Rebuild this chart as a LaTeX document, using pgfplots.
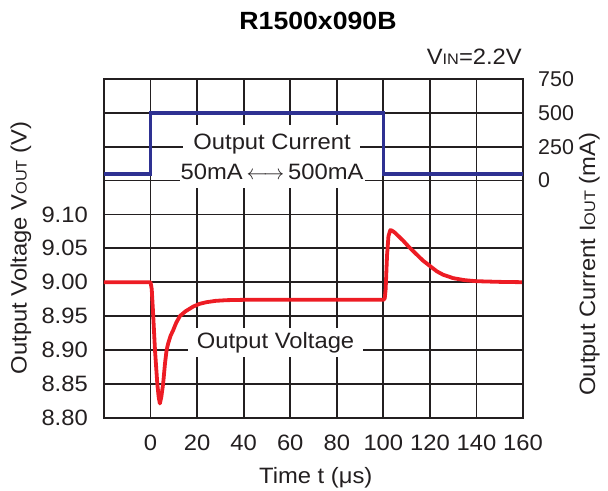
\documentclass[border=0pt]{standalone}
\usepackage{fontspec}
\setmainfont{Liberation Sans}[FakeStretch=1.07]
\newfontfamily\plainfont{Liberation Sans}
\usepackage{pgfplots}
\pgfplotsset{compat=1.18}
\definecolor{vred}{RGB}{237,28,36}
\definecolor{iblue}{RGB}{46,49,146}
\definecolor{gridc}{RGB}{35,31,32}
\newcommand\fs{\fontsize{22.3}{26}\selectfont}
\newcommand\sub[1]{{\fontsize{15.3}{18}\selectfont #1}}
\begin{document}
\begin{tikzpicture}[x=1bp,y=1bp]
\begin{axis}[
  at={(0,0)}, anchor=south west, scale only axis,
  width=419bp, height=338.7bp,
  xmin=-20, xmax=160, ymin=8.8, ymax=9.3,
  xtick={-20,0,20,40,60,80,100,120,140,160},
  xticklabels={{},0,20,40,60,80,100,120,140,160},
  ytick={8.8,8.85,8.9,8.95,9.0,9.05,9.1,9.15,9.2,9.25,9.3},
  yticklabels={8.80,8.85,8.90,8.95,9.00,9.05,9.10,{},{},{},{}},
  grid=major, grid style={line width=1.7bp, draw=gridc},
  major grid style={line width=1.7bp, draw=gridc},
  major tick length=0pt,
  axis line style={line width=1.9bp, draw=gridc},
  ticklabel style={font=\fs, text=gridc, inner sep=0pt},
  xticklabel style={anchor=north, yshift=-17.3bp},
  yticklabel style={anchor=east, xshift=-16bp},
  clip=false,
]
\fill[white] (axis cs:13.9,9.166) rectangle (axis cs:90.0,9.2327);
\fill[white] (axis cs:12.6,9.1395) rectangle (axis cs:92.1,9.167);
\fill[white] (axis cs:16.0,8.8896) rectangle (axis cs:91.3,8.9324);
\node[anchor=base, font=\fs, text=gridc, inner sep=0pt] at (axis cs:52.2,9.1957) {Output Current};
\node[anchor=base, font=\fs, text=gridc, inner sep=0pt] at (axis cs:52.2,9.1513) {50mA\,$\longleftrightarrow$\,500mA};
\node[anchor=base, font=\fs, text=gridc, inner sep=0pt] at (axis cs:53.7,8.9024) {Output Voltage};
\addplot[vred, line width=3.8bp, line join=round] coordinates {
(-20,9.000) (0,9.000) (0.5,8.99) (1,8.96) (1.9,8.90) (2.9,8.85) (3.5,8.83) (4,8.821)
(4.6,8.83) (5.4,8.85) (6.2,8.88) (6.9,8.90) (7.6,8.91) (8.6,8.921) (9.7,8.929)
(11,8.94) (12.6,8.95) (15,8.957) (18.3,8.964) (21,8.968) (24,8.9705) (28,8.9725)
(32.6,8.9735) (40,8.974) (100,8.974) (100.6,8.976) (101,8.99) (101.6,9.04)
(102.2,9.068) (103,9.077) (103.8,9.076) (105,9.073) (106.5,9.068) (108.6,9.061)
(111,9.052) (114.3,9.041) (117,9.032) (120,9.024) (123,9.016) (125.7,9.011)
(130,9.006) (135,9.003) (140,9.0015) (150,9.0005) (160,9.000)};
\end{axis}
\begin{axis}[
  at={(0,0)}, anchor=south west, scale only axis,
  width=419bp, height=338.7bp,
  xmin=-20, xmax=160, ymin=-1750, ymax=750,
  hide x axis, axis y line*=right,
  ytick={0,250,500,750},
  major tick length=0pt,
  axis line style={line width=1.9bp, draw=gridc},
  yticklabel style={font=\plainfont\fontsize{21.5}{26}\selectfont, text=gridc, anchor=west, inner sep=0pt, xshift=15bp},
  /pgf/number format/assume math mode=true,
  clip=false,
]
\addplot[iblue, line width=3.6bp] coordinates {(-20,50) (0,50) (0,500) (100,500) (100,50) (160,50)};
\end{axis}
\node[font={\fontsize{25}{30}\selectfont\bfseries}, text=black] at (214,396.7) {R1500x090B};
\node[anchor=base east, font=\fs, text=gridc, inner sep=0pt] at (418,352.7) {V\sub{IN}=2.2V};
\node[rotate=90, anchor=base, font=\fs, text=gridc, inner sep=0pt] at (-77.3,169.7) {Output Voltage V\sub{OUT} (V)};
\node[rotate=90, anchor=base, font=\fs, text=gridc, inner sep=0pt] at (491,153.5) {Output Current I\sub{OUT} (mA)};
\node[anchor=base, font=\fs, text=gridc, inner sep=0pt] at (211.8,-65.6) {Time t (μs)};
\pgfresetboundingbox
\useasboundingbox (-104,-73.3) rectangle (504,417.7);
\end{tikzpicture}
\end{document}
